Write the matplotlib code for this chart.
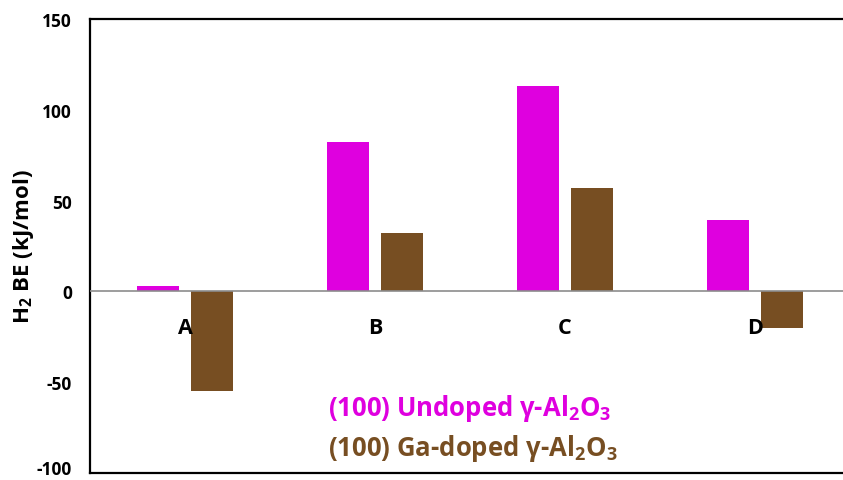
import matplotlib.pyplot as plt
import matplotlib.transforms as mtransforms
import numpy as np

plt.rcParams['font.family'] = ['Open Sans', 'DejaVu Sans']
plt.rcParams['axes.unicode_minus'] = False
plt.rcParams['mathtext.fontset'] = 'custom'
plt.rcParams['mathtext.rm'] = 'Open Sans:bold'
plt.rcParams['mathtext.bf'] = 'Open Sans:bold'
plt.rcParams['mathtext.default'] = 'bf'

# H2 binding energies (kJ/mol) per adsorption site
sites = ['A', 'B', 'C', 'D']
undoped = [3, 82, 113, 39.5]
ga_doped = [-55, 32, 57, -20]

pink = '#DF00DF'
brown = '#774E22'

fig = plt.figure(figsize=(8.43, 4.81), dpi=100)
ax = fig.add_axes([90 / 843, 7 / 481, 760 / 843, 454 / 481])

x = np.arange(len(sites))
w = 0.226
off = 0.142
ax.bar(x - off, undoped, w, color=pink, zorder=2)
ax.bar(x + off, ga_doped, w, color=brown, zorder=2)
ax.axhline(0, color='#8c8c8c', lw=1.2, zorder=3)

ax.set_xlim(-0.5, 3.5)
ax.set_ylim(-100, 150)
ax.set_yticks([-100, -50, 0, 50, 100, 150])
ax.set_xticks([])
ax.tick_params(axis='y', length=0, pad=13, labelsize=12.5)
for lab in ax.get_yticklabels():
    lab.set_fontweight('bold')

# lift the lowest tick label a little so it stays inside the figure
shift = mtransforms.ScaledTranslation(0, 4 / 72, fig.dpi_scale_trans)
low = ax.get_yticklabels()[0]
low.set_transform(low.get_transform() + shift)

for s in ['top', 'bottom', 'left']:
    ax.spines[s].set_linewidth(1.6)
ax.spines['right'].set_visible(False)

ax.set_ylabel('H$_2$ BE (kJ/mol)', fontsize=16, fontweight='bold')
ax.yaxis.set_label_coords(-54 / 760, 0.5)

for xi, name in zip(x, sites):
    ax.text(xi, -20, name, ha='center', va='center', fontsize=15.5,
            fontweight='bold', zorder=4)

# series labels drawn inside the plot
ax.text(0.753, -64, '(100) Undoped γ-Al$_2$O$_3$', color=pink, fontsize=18.5,
        fontweight='bold', va='center', ha='left')
ax.text(0.753, -86, '(100) Ga-doped γ-Al$_2$O$_3$', color=brown, fontsize=18.5,
        fontweight='bold', va='center', ha='left')

fig.savefig('out.png', dpi=100)
